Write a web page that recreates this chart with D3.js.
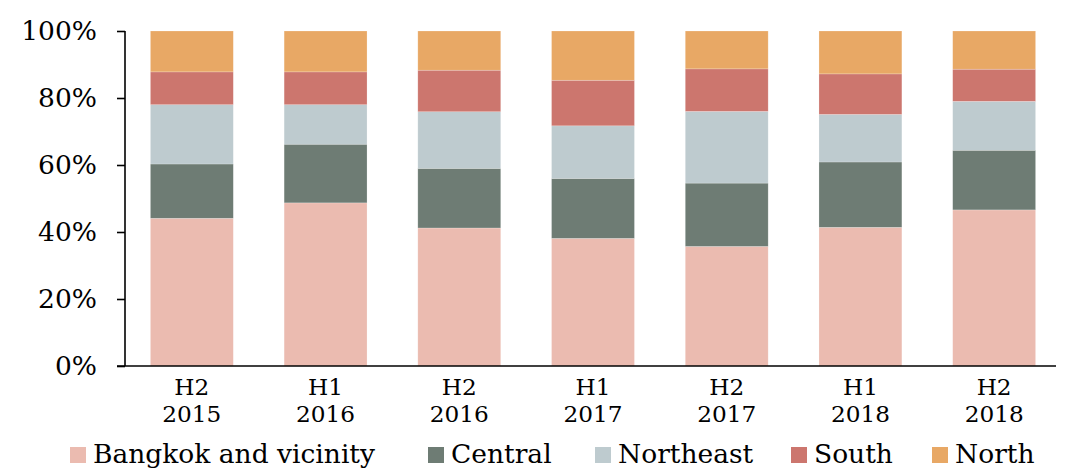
<!DOCTYPE html>
<html>
<head>
<meta charset="utf-8">
<script src="https://cdn.jsdelivr.net/npm/d3@7"></script>
<style>
  html, body { margin: 0; padding: 0; background: #fff; }
  svg { display: block; }
  text { font-family: "DejaVu Serif", serif; fill: #000; }
</style>
</head>
<body>
<svg id="chart" width="1068" height="472"></svg>
<script>
// Regional share of units, by half-year (percent of total)
const periods = ["H2 2015", "H1 2016", "H2 2016", "H1 2017", "H2 2017", "H1 2018", "H2 2018"];
const regions = ["Bangkok and vicinity", "Central", "Northeast", "South", "North"];
const bangkok   = [44.1, 48.7, 41.2, 38.1, 35.7, 41.4, 46.6];
const central   = [16.2, 17.5, 17.8, 17.9, 18.9, 19.5, 17.8];
const northeast = [17.7, 11.8, 16.9, 15.7, 21.4, 14.2, 14.6];
const south     = [9.8, 9.8, 12.4, 13.6, 12.7, 12.1, 9.6];
const north     = [12.2, 12.2, 11.7, 14.7, 11.3, 12.8, 11.4];
const yTicks = [0, 20, 40, 60, 80, 100];
const colors = ["#EBBBB0", "#6E7C74", "#BECBCF", "#CC766E", "#E8A865"];

const seriesValues = [bangkok, central, northeast, south, north];
const rows = periods.map((p, i) => {
  const r = { period: p };
  regions.forEach((name, k) => { r[name] = seriesValues[k][i]; });
  return r;
});

const FS = 26.5;      // tick and legend text
const FS_X = 23.2;    // two-line category labels
const svg = d3.select("#chart");
const margin = { left: 125, right: 7, top: 31, bottom: 106 };
const W = 1068, H = 472;

const x = d3.scaleBand()
  .domain(periods)
  .range([margin.left, W - margin.right])
  .paddingInner(0.38)
  .paddingOuter(0.19);

const y = d3.scaleLinear()
  .domain([0, 100])
  .range([H - margin.bottom, margin.top]);

const color = d3.scaleOrdinal().domain(regions).range(colors);

const stacked = d3.stack().keys(regions)(rows);

// Stacked bars
svg.append("g")
  .selectAll("g")
  .data(stacked)
  .join("g")
  .attr("fill", d => color(d.key))
  .selectAll("rect")
  .data(d => d)
  .join("rect")
  .attr("x", d => x(d.data.period))
  .attr("width", x.bandwidth())
  .attr("y", d => y(d[1]))
  .attr("height", d => y(d[0]) - y(d[1]))
  .attr("stroke", "#ffffff")
  .attr("stroke-opacity", 0.35)
  .attr("stroke-width", 0.6);

// Y axis
const yAxis = svg.append("g")
  .attr("transform", `translate(${margin.left},0)`)
  .call(d3.axisLeft(y).tickValues(yTicks).tickSize(8).tickPadding(20).tickFormat(d => d + "%"));
yAxis.select(".domain").attr("stroke", "#000").attr("stroke-width", 1.6)
  .attr("d", `M0,${y(100)}V${y(0)}`);
yAxis.selectAll(".tick line").attr("stroke", "#000").attr("stroke-width", 1.6);
yAxis.selectAll(".tick text")
  .attr("font-size", FS)
  .attr("font-family", "DejaVu Serif, serif")
  .attr("fill", "#000");

// X baseline
svg.append("line")
  .attr("x1", margin.left - 8)
  .attr("x2", W - 12)
  .attr("y1", y(0))
  .attr("y2", y(0))
  .attr("stroke", "#000")
  .attr("stroke-width", 1.6);

// X category labels: half-year on the first line, year on the second
const labelG = svg.append("g");
periods.forEach(p => {
  const parts = p.split(" ");
  const cx = x(p) + x.bandwidth() / 2;
  parts.forEach((part, k) => {
    labelG.append("text")
      .attr("x", cx)
      .attr("y", y(0) + 29 + k * 27)
      .attr("text-anchor", "middle")
      .attr("font-size", FS_X)
      .text(part);
  });
});

// Legend
const legendX = [70, 428, 595, 791, 932];
const legend = svg.append("g")
  .selectAll("g")
  .data(regions)
  .join("g")
  .attr("transform", (d, i) => `translate(${legendX[i]},447)`);
legend.append("rect")
  .attr("width", 16)
  .attr("height", 16)
  .attr("fill", d => color(d));
legend.append("text")
  .attr("x", 23)
  .attr("y", 16)
  .attr("font-size", FS)
  .text(d => d);
</script>
</body>
</html>
